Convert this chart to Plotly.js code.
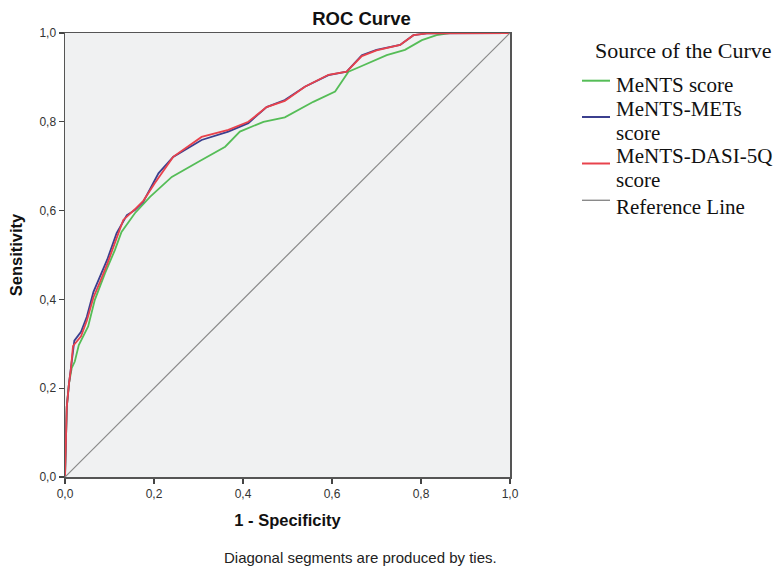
<!DOCTYPE html>
<html>
<head>
<meta charset="utf-8">
<script src="https://cdn.plot.ly/plotly-3.0.1.min.js"></script>
<style>html,body{margin:0;padding:0;background:#fff;}#chart{width:778px;height:566px;}</style>
</head>
<body>
<div id="chart"></div>
<script>
// MeNTS score (green)
var mentsX = [0, 0.002, 0.004, 0.009, 0.015, 0.022, 0.031, 0.052, 0.067, 0.09, 0.112, 0.127, 0.157, 0.191, 0.24, 0.3, 0.36, 0.393, 0.446, 0.494, 0.539, 0.558, 0.607, 0.637, 0.663, 0.723, 0.764, 0.802, 0.835, 0.865, 1];
var mentsY = [0, 0.09, 0.158, 0.211, 0.245, 0.26, 0.297, 0.339, 0.399, 0.459, 0.511, 0.552, 0.594, 0.631, 0.676, 0.71, 0.744, 0.778, 0.8, 0.81, 0.835, 0.845, 0.868, 0.913, 0.924, 0.95, 0.962, 0.984, 0.995, 1.0, 1];
// MeNTS-METs score (blue)
var metsX = [0, 0.002, 0.004, 0.009, 0.013, 0.021, 0.036, 0.049, 0.064, 0.079, 0.095, 0.116, 0.139, 0.157, 0.176, 0.21, 0.243, 0.307, 0.367, 0.412, 0.453, 0.494, 0.539, 0.592, 0.633, 0.667, 0.7, 0.753, 0.783, 0.813, 0.9, 1];
var metsY = [0, 0.09, 0.158, 0.211, 0.241, 0.307, 0.327, 0.361, 0.417, 0.451, 0.49, 0.549, 0.59, 0.601, 0.62, 0.684, 0.721, 0.759, 0.778, 0.797, 0.833, 0.849, 0.879, 0.905, 0.913, 0.95, 0.962, 0.973, 0.995, 0.999, 1, 1];
// MeNTS-DASI-5Q score (red)
var dasiX = [0, 0.002, 0.004, 0.009, 0.013, 0.018, 0.036, 0.049, 0.064, 0.079, 0.095, 0.116, 0.131, 0.157, 0.176, 0.202, 0.243, 0.307, 0.367, 0.412, 0.453, 0.494, 0.539, 0.592, 0.633, 0.667, 0.7, 0.753, 0.783, 0.813, 0.9, 1];
var dasiY = [0, 0.09, 0.158, 0.211, 0.241, 0.295, 0.317, 0.352, 0.405, 0.44, 0.48, 0.538, 0.579, 0.603, 0.622, 0.662, 0.721, 0.766, 0.782, 0.8, 0.833, 0.847, 0.879, 0.906, 0.913, 0.948, 0.961, 0.973, 0.995, 0.999, 1, 1];
// Reference line
var refX = [0, 1];
var refY = [0, 1];
var tickVals = [0, 0.2, 0.4, 0.6, 0.8, 1.0];
var tickText = ['0,0', '0,2', '0,4', '0,6', '0,8', '1,0'];
// Legend
var legendTitle = 'Source of the Curve';
var seriesNames = [['MeNTS score'], ['MeNTS-METs', 'score'], ['MeNTS-DASI-5Q', 'score'], ['Reference Line']];
var seriesColors = ['#55bd57', '#3b3f8e', '#e8424c', '#8a8a8a'];
var seriesWidths = [1.8, 1.8, 1.8, 1.2];

var xs = [mentsX, metsX, dasiX, refX];
var ys = [mentsY, metsY, dasiY, refY];
var traces = xs.map(function (x, i) {
  return {x: x, y: ys[i], name: seriesNames[i].join(' '), mode: 'lines', showlegend: false,
          line: {color: seriesColors[i], width: seriesWidths[i]}};
});

var axisCommon = {
  range: [0, 1], tickvals: tickVals, ticktext: tickText,
  showgrid: false, zeroline: false, showline: true, mirror: true,
  linecolor: '#555', linewidth: 1.5, ticks: 'outside', ticklen: 5, tickcolor: '#444', tickwidth: 1.2,
  tickfont: {family: 'Liberation Sans, Arial, sans-serif', size: 12, color: '#333'},
  fixedrange: true
};
var axisTitleFont = {family: 'Liberation Sans, Arial, sans-serif', size: 16.5, color: '#111'};
var serifTitle = {family: 'Liberation Serif, Times New Roman, serif', size: 22, color: '#111'};
var serif = {family: 'Liberation Serif, Times New Roman, serif', size: 21, color: '#111'};

// legend layout (pixels relative to plot area's right/top edge)
var plotTop = 33, plotH = 444, plotRight = 510;
var textLineCenters = [84.5, 108.7, 133.2, 155.5, 180, 206.7];
var keyCenters = [80.7, 117, 163.5, 200.3];

var annotations = [
  {text: legendTitle, xref: 'paper', yref: 'paper', x: 1, y: 1, xshift: 593 - plotRight, yshift: -(50.7 - plotTop),
   xanchor: 'left', yanchor: 'middle', showarrow: false, font: serifTitle},
  {text: 'Diagonal segments are produced by ties.', xref: 'paper', yref: 'paper', x: (360 - 65) / 445, y: 0, yshift: -80,
   xanchor: 'center', yanchor: 'middle', showarrow: false, font: {family: 'Liberation Sans, Arial, sans-serif', size: 15, color: '#222'}}
];
var shapes = [];
var lineIdx = 0;
seriesNames.forEach(function (lines, i) {
  lines.forEach(function (t) {
    annotations.push({text: t, xref: 'paper', yref: 'paper', x: 1, y: 1, xshift: 614 - plotRight,
      yshift: -(textLineCenters[lineIdx] - plotTop), xanchor: 'left', yanchor: 'middle', showarrow: false, font: serif});
    lineIdx++;
  });
  var yp = (477 - keyCenters[i]) / plotH;
  shapes.push({type: 'line', xref: 'paper', yref: 'paper', x0: 1 + (582 - plotRight) / 445, x1: 1 + (610 - plotRight) / 445,
    y0: yp, y1: yp, line: {color: seriesColors[i], width: seriesWidths[i] + 0.2}});
});

var layout = {
  width: 778, height: 566,
  margin: {l: 65, r: 268, t: 33, b: 89},
  paper_bgcolor: '#ffffff', plot_bgcolor: '#f0f1f2',
  title: {text: '<b>ROC Curve</b>', font: {family: 'Liberation Sans, Arial, sans-serif', size: 18.5, color: '#111'},
          x: 361.5 / 778, xref: 'container', xanchor: 'center', y: 1 - 19 / 566, yref: 'container', yanchor: 'middle'},
  xaxis: Object.assign({}, axisCommon, {title: {text: '<b>1 - Specificity</b>', font: axisTitleFont, standoff: 14}}),
  yaxis: Object.assign({}, axisCommon, {title: {text: '<b>Sensitivity</b>', font: axisTitleFont, standoff: 12}}),
  showlegend: false,
  annotations: annotations,
  shapes: shapes
};

Plotly.newPlot('chart', traces, layout, {staticPlot: true, displayModeBar: false});
</script>
</body>
</html>
